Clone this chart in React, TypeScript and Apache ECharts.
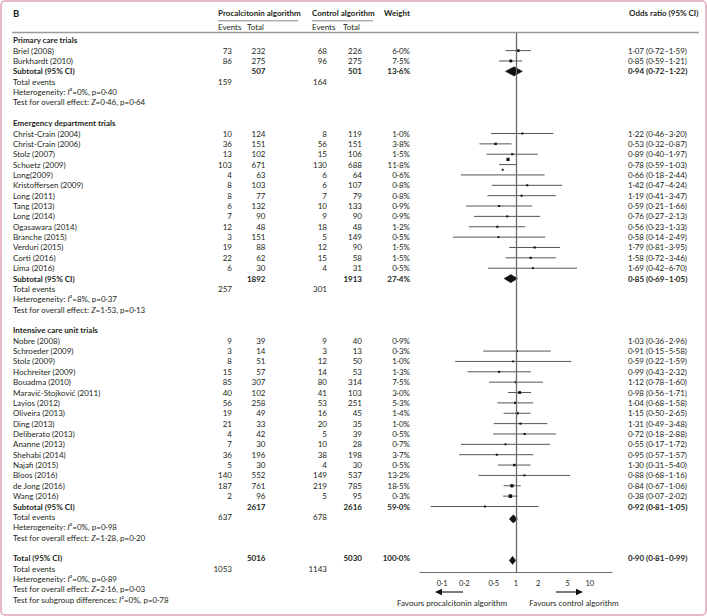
import React, { useEffect, useRef } from "react";
import * as echarts from "echarts";

const FONT = "Lato, 'Noto Sans', sans-serif";
const INK = "#231f20";
const FS = 8;

// ---------- Data ----------
const groupLabels = ["Primary care trials", "Emergency department trials", "Intensive care unit trials"];

const primaryNames = ["Briel (2008)", "Burkhardt (2010)"];
const primaryPctEvents = [73, 86];
const primaryPctTotal = [232, 275];
const primaryCtlEvents = [68, 96];
const primaryCtlTotal = [226, 275];
const primaryWeight = [6.0, 7.5];
const primaryOR = [1.07, 0.85];
const primaryLo = [0.72, 0.59];
const primaryHi = [1.59, 1.21];

const edNames = [
  "Christ-Crain (2004)", "Christ-Crain (2006)", "Stolz (2007)", "Schuetz (2009)", "Long(2009)",
  "Kristoffersen (2009)", "Long (2011)", "Tang (2013)", "Long (2014)", "Ogasawara (2014)",
  "Branche (2015)", "Verduri (2015)", "Corti (2016)", "Lima (2016)",
];
const edPctEvents = [10, 36, 13, 103, 4, 8, 8, 6, 7, 12, 3, 19, 22, 6];
const edPctTotal = [124, 151, 102, 671, 63, 103, 77, 132, 90, 48, 151, 88, 62, 30];
const edCtlEvents = [8, 56, 15, 130, 6, 6, 7, 10, 9, 18, 5, 12, 15, 4];
const edCtlTotal = [119, 151, 106, 688, 64, 107, 79, 133, 90, 48, 149, 90, 58, 31];
const edWeight = [1.0, 3.8, 1.5, 11.8, 0.6, 0.8, 0.8, 0.9, 0.9, 1.2, 0.5, 1.5, 1.5, 0.5];
const edOR = [1.22, 0.53, 0.89, 0.78, 0.66, 1.42, 1.19, 0.59, 0.76, 0.56, 0.58, 1.79, 1.58, 1.69];
const edLo = [0.46, 0.32, 0.40, 0.59, 0.18, 0.47, 0.41, 0.21, 0.27, 0.23, 0.14, 0.81, 0.72, 0.42];
const edHi = [3.20, 0.87, 1.97, 1.03, 2.44, 4.24, 3.47, 1.66, 2.13, 1.33, 2.49, 3.95, 3.46, 6.70];

const icuNames = [
  "Nobre (2008)", "Schroeder (2009)", "Stolz (2009)", "Hochreiter (2009)", "Bouadma (2010)",
  "Maravić-Stojković (2011)", "Layios (2012)", "Oliveira (2013)", "Ding (2013)", "Deliberato (2013)",
  "Ananne (2013)", "Shehabi (2014)", "Najafi (2015)", "Bloos (2016)", "de Jong (2016)", "Wang (2016)",
];
const icuPctEvents = [9, 3, 8, 15, 85, 40, 56, 19, 21, 4, 7, 36, 5, 140, 187, 2];
const icuPctTotal = [39, 14, 51, 57, 307, 102, 258, 49, 33, 42, 30, 196, 30, 552, 761, 96];
const icuCtlEvents = [9, 3, 12, 14, 80, 41, 53, 16, 20, 5, 10, 38, 4, 149, 219, 5];
const icuCtlTotal = [40, 13, 50, 53, 314, 103, 251, 45, 35, 39, 28, 198, 30, 537, 785, 95];
const icuWeight = [0.9, 0.3, 1.0, 1.3, 7.5, 3.0, 5.3, 1.4, 1.0, 0.5, 0.7, 3.7, 0.5, 13.2, 18.5, 0.3];
const icuOR = [1.03, 0.91, 0.59, 0.99, 1.12, 0.98, 1.04, 1.15, 1.31, 0.72, 0.55, 0.95, 1.30, 0.88, 0.84, 0.38];
const icuLo = [0.36, 0.15, 0.22, 0.43, 0.78, 0.56, 0.68, 0.50, 0.49, 0.18, 0.17, 0.57, 0.31, 0.68, 0.67, 0.07];
const icuHi = [2.96, 5.58, 1.59, 2.32, 1.60, 1.71, 1.58, 2.65, 3.48, 2.88, 1.72, 1.57, 5.40, 1.16, 1.06, 2.02];

const subtotalPctTotal = [507, 1892, 2617];
const subtotalCtlTotal = [501, 1913, 2616];
const subtotalWeight = [13.6, 27.4, 59.0];
const subtotalOR = [0.94, 0.85, 0.92];
const subtotalLo = [0.72, 0.69, 0.81];
const subtotalHi = [1.22, 1.05, 1.05];
const subtotalPctEvents = [159, 257, 637];
const subtotalCtlEvents = [164, 301, 678];
const hetI2 = [0, 8, 0];
const hetP = [0.40, 0.37, 0.98];
const testZ = [0.46, 1.53, 1.28];
const testP = [0.64, 0.13, 0.20];

const overallPctTotal = 5016;
const overallCtlTotal = 5030;
const overallWeight = 100.0;
const overallOR = 0.90;
const overallLo = 0.81;
const overallHi = 0.99;
const overallPctEvents = 1053;
const overallCtlEvents = 1143;
const overallHetI2 = 0;
const overallHetP = 0.89;
const overallZ = 2.16;
const overallP = 0.03;
const subgroupI2 = 0;
const subgroupP = 0.78;

const xTicks = [0.1, 0.2, 0.5, 1, 2, 5, 10];

// ---------- Layout constants ----------
const NAME_X = 13;
const PE_R = 232;
const PT_R = 265.5;
const CE_R = 327;
const CT_R = 362;
const W_R = 410;
const OR_L = 628;
// the reference draws the ICU marks one row lower than their table rows
const groupPlotShift = [0, 0, 1];
const markerNudge: Record<string, number> = { "Schuetz (2009)": -0.5, "Long(2009)": -0.5 };

const fmt = (v: number, d: number) => v.toFixed(d).replace(".", "·");
const orText = (o: number, l: number, h: number) => `${fmt(o, 2)} (${fmt(l, 2)}–${fmt(h, 2)})`;

type Cell = { text: string; x: number; align: "left" | "right"; bold?: boolean };
const rows: Cell[][] = [];
const marks: number[][] = []; // [logLo, logOR, logHi, plotRow, kind(0 study / 1 diamond), size, nudge]

const groups = [
  { n: primaryNames, pe: primaryPctEvents, pt: primaryPctTotal, ce: primaryCtlEvents, ct: primaryCtlTotal, w: primaryWeight, o: primaryOR, l: primaryLo, h: primaryHi },
  { n: edNames, pe: edPctEvents, pt: edPctTotal, ce: edCtlEvents, ct: edCtlTotal, w: edWeight, o: edOR, l: edLo, h: edHi },
  { n: icuNames, pe: icuPctEvents, pt: icuPctTotal, ce: icuCtlEvents, ct: icuCtlTotal, w: icuWeight, o: icuOR, l: icuLo, h: icuHi },
];

groups.forEach((g, gi) => {
  rows.push([{ text: groupLabels[gi], x: NAME_X, align: "left", bold: true }]);
  g.n.forEach((name, i) => {
    const r = rows.length;
    rows.push([
      { text: name, x: NAME_X, align: "left" },
      { text: String(g.pe[i]), x: PE_R, align: "right" },
      { text: String(g.pt[i]), x: PT_R, align: "right" },
      { text: String(g.ce[i]), x: CE_R, align: "right" },
      { text: String(g.ct[i]), x: CT_R, align: "right" },
      { text: fmt(g.w[i], 1) + "%", x: W_R, align: "right" },
      { text: orText(g.o[i], g.l[i], g.h[i]), x: OR_L, align: "left" },
    ]);
    marks.push([
      Math.log10(g.l[i]), Math.log10(g.o[i]), Math.log10(g.h[i]),
      r + groupPlotShift[gi], 0, 1.6 + 0.45 * Math.sqrt(g.w[i]), markerNudge[name] || 0,
    ]);
  });
  const sr = rows.length;
  rows.push([
    { text: "Subtotal (95% CI)", x: NAME_X, align: "left", bold: true },
    { text: String(subtotalPctTotal[gi]), x: PT_R, align: "right", bold: true },
    { text: String(subtotalCtlTotal[gi]), x: CT_R, align: "right", bold: true },
    { text: fmt(subtotalWeight[gi], 1) + "%", x: W_R, align: "right", bold: true },
    { text: orText(subtotalOR[gi], subtotalLo[gi], subtotalHi[gi]), x: OR_L, align: "left", bold: true },
  ]);
  marks.push([
    Math.log10(subtotalLo[gi]), Math.log10(subtotalOR[gi]), Math.log10(subtotalHi[gi]),
    sr + groupPlotShift[gi] + (groupPlotShift[gi] ? 0.2 : 0), 1, gi === 0 ? 4.6 : 4.1, 0,
  ]);
  rows.push([
    { text: "Total events", x: NAME_X, align: "left" },
    { text: String(subtotalPctEvents[gi]), x: PE_R, align: "right" },
    { text: String(subtotalCtlEvents[gi]), x: CE_R, align: "right" },
  ]);
  rows.push([{ text: `Heterogeneity: {it|I}²=${hetI2[gi]}%, p=${fmt(hetP[gi], 2)}`, x: NAME_X, align: "left" }]);
  rows.push([{ text: `Test for overall effect: {it|Z}=${fmt(testZ[gi], 2)}, p=${fmt(testP[gi], 2)}`, x: NAME_X, align: "left" }]);
  rows.push([]);
});

const totalRow = rows.length;
rows.push([
  { text: "Total (95% CI)", x: NAME_X, align: "left", bold: true },
  { text: String(overallPctTotal), x: PT_R, align: "right", bold: true },
  { text: String(overallCtlTotal), x: CT_R, align: "right", bold: true },
  { text: fmt(overallWeight, 1) + "%", x: W_R, align: "right", bold: true },
  { text: orText(overallOR, overallLo, overallHi), x: OR_L, align: "left", bold: true },
]);
marks.push([Math.log10(overallLo), Math.log10(overallOR), Math.log10(overallHi), totalRow + 0.2, 1, 4.1, 0]);
rows.push([
  { text: "Total events", x: NAME_X, align: "left" },
  { text: String(overallPctEvents), x: PE_R, align: "right" },
  { text: String(overallCtlEvents), x: CE_R, align: "right" },
]);
rows.push([{ text: `Heterogeneity: {it|I}²=${overallHetI2}%, p=${fmt(overallHetP, 2)}`, x: NAME_X, align: "left" }]);
rows.push([{ text: `Test for overall effect: {it|Z}=${fmt(overallZ, 2)}, p=${fmt(overallP, 2)}`, x: NAME_X, align: "left" }]);
rows.push([{ text: `Test for subgroup differences: {it|I}²=${subgroupI2}%, p=${fmt(subgroupP, 2)}`, x: NAME_X, align: "left" }]);

const tickLabel = (v: number) => {
  let best = xTicks[0];
  xTicks.forEach((t) => {
    if (Math.abs(Math.log10(t) - v) < Math.abs(Math.log10(best) - v)) best = t;
  });
  return best < 1 ? fmt(best, 1) : String(best);
};

const txt = (text: string, x: number, y: number, align: string, bold = false, size = FS) => ({
  type: "text",
  x,
  y,
  silent: true,
  style: {
    text,
    fill: INK,
    fontFamily: FONT,
    fontSize: size,
    fontWeight: bold ? "bold" : "normal",
    align,
    textAlign: align,
    verticalAlign: "middle",
    textVerticalAlign: "middle",
  },
});

export default function App() {
  const ref = useRef<HTMLDivElement>(null);
  useEffect(() => {
    if (!ref.current) return;
    const chart = echarts.init(ref.current, null, { renderer: "svg" });
    const richIt = { fontStyle: "italic", fontFamily: FONT, fontSize: FS, fill: INK };
    chart.setOption({
      animation: false,
      backgroundColor: "#ffffff",
      grid: { left: 420, right: 95, top: 33, bottom: 43.5 },
      xAxis: {
        type: "value",
        min: -1.3,
        max: 1.3,
        axisLine: { show: true, onZero: false, lineStyle: { color: "#6f6f6f", width: 1 } },
        axisTick: { show: false },
        splitLine: { show: false },
        axisLabel: {
          customValues: xTicks.map((t) => Math.log10(t)),
          formatter: (v: number) => tickLabel(v),
          color: INK,
          fontFamily: FONT,
          fontSize: 7.5,
          margin: 7,
        },
      },
      yAxis: { type: "value", inverse: true, min: -0.7, max: 51.37, show: false },
      series: [
        {
          type: "custom",
          name: "table",
          silent: true,
          clip: false,
          encode: { x: 0, y: 1 },
          data: rows.map((_, i) => [0, i]),
          renderItem: (params: any, api: any) => {
            const cells = rows[params.dataIndex];
            const y = api.coord([0, params.dataIndex])[1];
            return {
              type: "group",
              children: cells.map((c) => {
                const t: any = txt(c.text, c.x, y, c.align, !!c.bold);
                if (c.text.indexOf("{it|") >= 0) t.style.rich = { it: richIt };
                return t;
              }),
            };
          },
        },
        {
          type: "custom",
          name: "marks",
          silent: true,
          clip: false,
          encode: { x: [0, 1, 2], y: 3 },
          data: marks,
          renderItem: (params: any, api: any) => {
            const lo = api.value(0), or = api.value(1), hi = api.value(2);
            const r = api.value(3), kind = api.value(4), s = api.value(5), nudge = api.value(6);
            const pLo = api.coord([lo, r]);
            const pOr = api.coord([or, r]);
            const pHi = api.coord([hi, r]);
            if (kind === 1) {
              return {
                type: "polygon",
                shape: { points: [[pLo[0], pOr[1]], [pOr[0], pOr[1] - s], [pHi[0], pOr[1]], [pOr[0], pOr[1] + s]] },
                style: { fill: "#111111", stroke: "#111111", lineWidth: 0.5 },
              };
            }
            const pM = api.coord([or, r + nudge]);
            return {
              type: "group",
              children: [
                {
                  type: "line",
                  shape: { x1: pLo[0], y1: pLo[1], x2: pHi[0], y2: pHi[1] },
                  style: { stroke: "#555555", lineWidth: 1 },
                },
                {
                  type: "rect",
                  shape: { x: pM[0] - s / 2, y: pM[1] - s / 2, width: s, height: s },
                  style: { fill: "#111111" },
                },
              ],
            };
          },
          markLine: {
            silent: true,
            symbol: "none",
            label: { show: false },
            lineStyle: { color: "#6a6a6a", width: 1.3, type: "solid" },
            data: [{ xAxis: 0 }],
          },
        },
      ],
      graphic: [
        {
          type: "rect",
          silent: true,
          shape: { x: 1, y: 1, width: 705, height: 614, r: 4 },
          style: { fill: "none", stroke: "#e4a3b7", lineWidth: 1.5 },
        },
        txt("B", 13, 13.3, "left", true, 9.5),
        txt("Procalcitonin algorithm", 218, 13.3, "left", true),
        txt("Control algorithm", 312, 13.3, "left", true),
        txt("Weight", W_R, 13.3, "right", true),
        txt("Odds ratio (95% CI)", 629, 13.3, "left", true),
        txt("Events", 218, 26.7, "left"),
        txt("Total", 247, 26.7, "left"),
        txt("Events", 312, 26.7, "left"),
        txt("Total", 343, 26.7, "left"),
        { type: "line", silent: true, shape: { x1: 218, y1: 20.8, x2: 298, y2: 20.8 }, style: { stroke: "#8a8a8a", lineWidth: 1 } },
        { type: "line", silent: true, shape: { x1: 312, y1: 20.8, x2: 373, y2: 20.8 }, style: { stroke: "#8a8a8a", lineWidth: 1 } },
        { type: "line", silent: true, shape: { x1: 12, y1: 32.5, x2: 699, y2: 32.5 }, style: { stroke: "#9a9a9a", lineWidth: 1.3 } },
        { type: "line", silent: true, shape: { x1: 463, y1: 592, x2: 441, y2: 592 }, style: { stroke: "#333333", lineWidth: 1.3 } },
        { type: "polygon", silent: true, shape: { points: [[435, 592], [442, 588.8], [442, 595.2]] }, style: { fill: "#111111" } },
        { type: "line", silent: true, shape: { x1: 556, y1: 592, x2: 577, y2: 592 }, style: { stroke: "#333333", lineWidth: 1.3 } },
        { type: "polygon", silent: true, shape: { points: [[583, 592], [576, 588.8], [576, 595.2]] }, style: { fill: "#111111" } },
        txt("Favours procalcitonin algorithm", 452, 602.5, "center"),
        txt("Favours control algorithm", 574, 602.5, "center"),
      ],
    });
    return () => chart.dispose();
  }, []);
  return (
    <div
      ref={ref}
      style={{ position: "fixed", left: 0, top: 0, width: 707, height: 616, background: "#fff" }}
    />
  );
}
